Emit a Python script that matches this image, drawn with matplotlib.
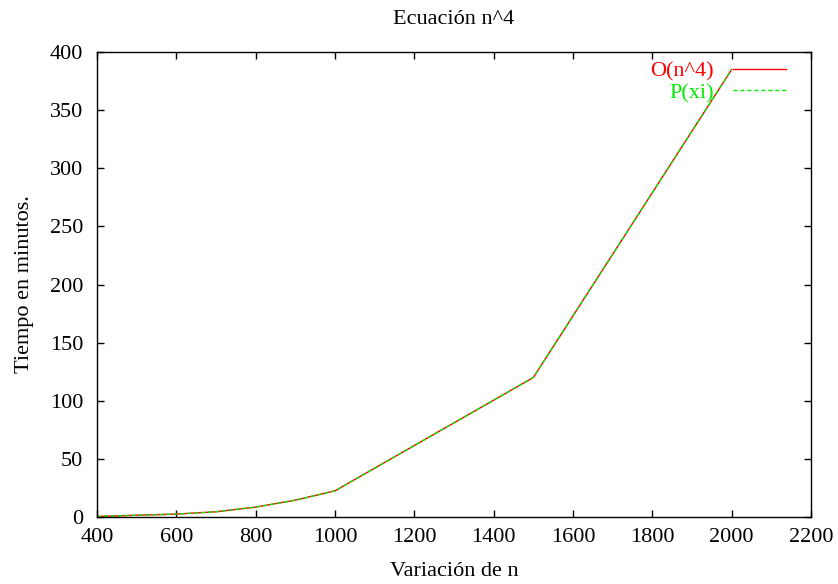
import numpy as np
import matplotlib as mpl
mpl.use("Agg")
import matplotlib.pyplot as plt

mpl.rcParams.update({
    "font.family": "Liberation Serif",
    "font.size": 16,
})

n_values = [400, 600, 700, 800, 900, 1000, 1500, 2000]
t_theory = [0.5, 2.5, 4.5, 8.5, 14.5, 22.5, 120, 385]
t_measured = [0.5, 2.5, 4.5, 8.5, 14.5, 22.5, 120, 385]

fig = plt.figure(figsize=(8.38, 5.84), dpi=100)
ax = fig.add_axes([97/838, 1-517/584, (811-97)/838, (517-52)/584])

ax.plot(n_values, t_theory, color='red', linewidth=1, label='O(n^4)')
ax.plot(n_values, t_measured, color='#00ee00', linewidth=1,
        linestyle=(0, (3, 2)), label='P(xi)')

ax.set_xlim(400, 2200)
ax.set_ylim(0, 400)
ax.set_xticks(np.arange(400, 2201, 200))
ax.set_yticks(np.arange(0, 401, 50))
ax.tick_params(direction='in', top=True, right=True, length=5, width=1)
ax.tick_params(axis='y', pad=10)
ax.tick_params(axis='x', pad=8)
for s in ax.spines.values():
    s.set_linewidth(1)

ax.set_title('Ecuación n^4', fontsize=16, pad=20)
ax.set_xlabel('Variación de n', labelpad=11)
ax.set_ylabel('Tiempo en minutos.', labelpad=11)

# legend: text right-aligned, samples to the right, no frame
leg = ax.legend(loc='upper right', frameon=False, markerfirst=False,
                handlelength=2.4, handletextpad=0.85, labelspacing=0.05,
                borderpad=0, borderaxespad=0,
                bbox_to_anchor=(1 - 25/714, 1 - 9/465), fontsize=16)
for txt, line in zip(leg.get_texts(), leg.get_lines()):
    txt.set_color(line.get_color())

fig.savefig('out.png', dpi=100)
